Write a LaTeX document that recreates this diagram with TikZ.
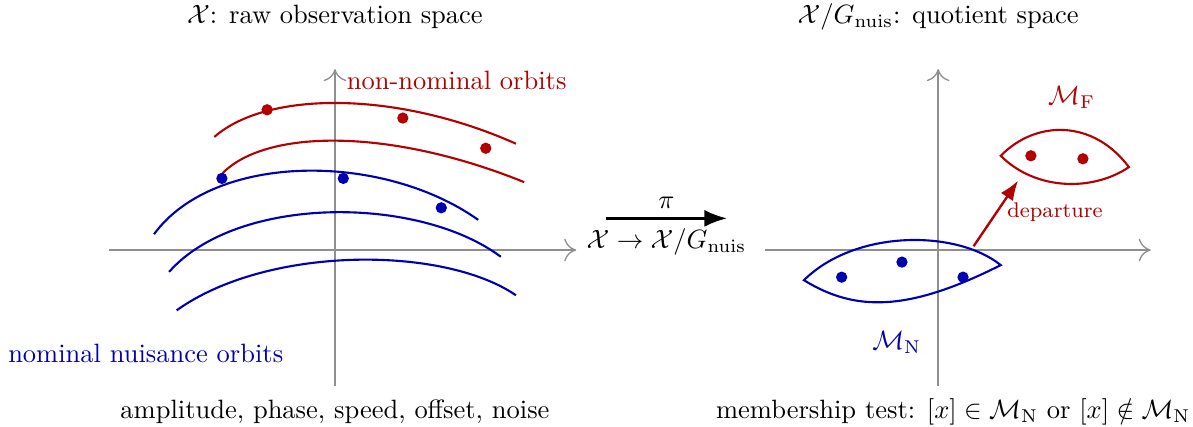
\documentclass[tikz,border=0pt]{standalone}
\usepackage{amsmath,amssymb}
\usetikzlibrary{arrows.meta, positioning}
\definecolor{cnom}{RGB}{0,0,179}
\definecolor{cfault}{RGB}{179,0,0}
\definecolor{caxis}{HTML}{8F8F8F}
\tikzset{
  axis/.style={-{To[length=1.6mm, width=3mm]}, draw=caxis, line width=0.5pt},
  orbit/.style={draw=#1, line width=0.8pt},
  lens/.style={draw=#1, line width=0.8pt},
  dot/.style={circle, fill=#1, inner sep=0pt, minimum size=1.5mm},
  maparrow/.style={-{Latex[length=3mm]}, line width=1pt},
  departarrow/.style={-{Latex[length=2.6mm]}, draw=cfault, line width=0.9pt},
  lbl/.style={text=#1, inner sep=2pt},
}

\begin{document}
\begin{tikzpicture}
  \useasboundingbox (-4.443,-2.347) rectangle (11.38,3.316);
  % raw observation space
  \draw[axis] (-3,0) -- (3.2,0);
  \draw[axis] (0,-1.8) -- (0,2.4);
  \node (rawT) at (0,3.09) {$\mathcal{X}$: raw observation space};
  \node (rawB) at (0,-2.15) {amplitude, phase, speed, offset, noise};
  \draw[orbit=cnom] (-2.4,0.21) .. controls (-1.6,1.30) and (0.63,1.30) .. (1.9,0.40);
  \draw[orbit=cnom] (-2.2,-0.29) .. controls (-1.3,0.73) and (1.1,0.73) .. (2.2,-0.09);
  \draw[orbit=cnom] (-2.1,-0.80) .. controls (-0.9,0.06) and (1.44,0.06) .. (2.4,-0.60);
  \draw[orbit=cfault] (-1.6,1.50) .. controls (-0.9,2.115) and (0.82,2.115) .. (2.4,1.41);
  \draw[orbit=cfault] (-1.49,1.02) .. controls (-0.9,1.613) and (0.75,1.613) .. (2.51,0.90);
  \node[dot=cfault] (f1) at (-0.90,1.86) {};
  \node[dot=cfault] (f2) at (0.90,1.75) {};
  \node[dot=cfault] (f3) at (2.00,1.35) {};
  \node[dot=cnom] (n1) at (-1.50,0.95) {};
  \node[dot=cnom] (n2) at (0.11,0.95) {};
  \node[dot=cnom] (n3) at (1.41,0.56) {};
  \node[lbl=cfault, anchor=west] (nonnom) at (0.08,2.25) {non-nominal orbits};
  \node[lbl=cnom] (nomlbl) at (-2.51,-1.37) {nominal nuisance orbits};
  % projection
  \coordinate (mapL) at (3.59,0.42);
  \coordinate (mapR) at (5.20,0.42);
  \draw[maparrow] (mapL) -- node[above] {$\pi$} node[below] {$\mathcal{X}\to\mathcal{X}/G_{\mathrm{nuis}}$} (mapR);
  % quotient space
  \begin{scope}[xshift=8cm]
    \draw[axis] (-2.3,0) -- (2.82,0);
    \draw[axis] (0,-1.8) -- (0,2.4);
    \node (quoT) at (0,3.09) {$\mathcal{X}/G_{\mathrm{nuis}}$: quotient space};
    \node (quoB) at (0.2,-2.15) {membership test: $[x]\in\mathcal{M}_{\mathrm{N}}$ or $[x]\notin\mathcal{M}_{\mathrm{N}}$};
    \draw[lens=cnom] (-1.78,-0.40) .. controls (-1.1,0.273) and (0.24,0.273) .. (0.83,-0.20)
      .. controls (-0.4,-0.82) and (-1.1,-0.82) .. (-1.78,-0.40) -- cycle;
    \draw[lens=cfault] (0.83,1.25) .. controls (1.3,1.73) and (2.06,1.73) .. (2.53,1.10)
      .. controls (2.06,0.78) and (1.3,0.78) .. (0.83,1.25) -- cycle;
    \node[dot=cnom] (m1) at (-1.28,-0.36) {};
    \node[dot=cnom] (m2) at (-0.48,-0.16) {};
    \node[dot=cnom] (m3) at (0.33,-0.36) {};
    \node[dot=cfault] (q1) at (1.23,1.25) {};
    \node[dot=cfault] (q2) at (1.92,1.21) {};
    \node[lbl=cnom] (MN) at (-0.55,-1.23) {$\mathcal{M}_{\mathrm{N}}$};
    \node[lbl=cfault] (MF) at (1.77,2.03) {$\mathcal{M}_{\mathrm{F}}$};
    \coordinate (depA) at (0.47,0.05);
    \coordinate (depB) at (1.06,0.92);
    \draw[departarrow] (depA) -- (depB);
    \node[lbl=cfault, font=\footnotesize] (dep) at (1.55,0.50) {departure};
  \end{scope}
\end{tikzpicture}
\end{document}
